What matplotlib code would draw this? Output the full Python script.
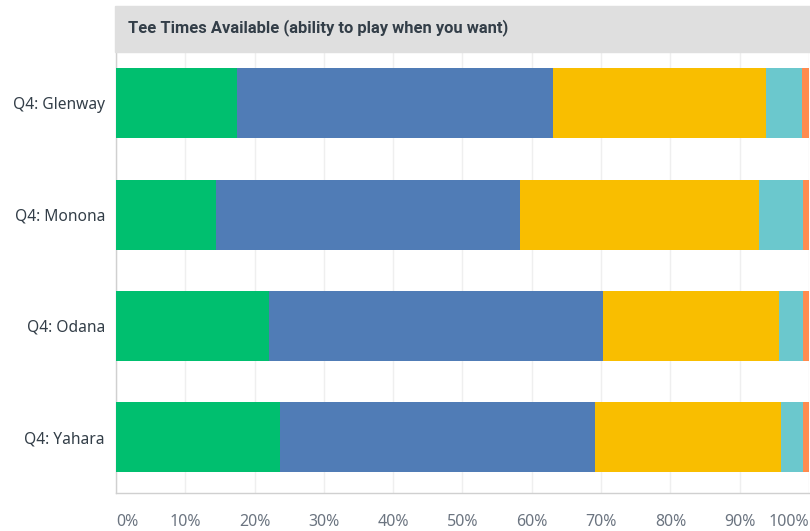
import numpy as np
import matplotlib.pyplot as plt
import matplotlib.ticker as ticker
from matplotlib.patches import Rectangle

# ── DATA ──────────────────────────────────────────────────────────────────────
courses = ["Q4: Glenway", "Q4: Monona", "Q4: Odana", "Q4: Yahara"]
seg_green  = [17.5, 14.4, 22.1, 23.7]
seg_blue   = [45.6, 43.9, 48.2, 45.4]
seg_yellow = [30.7, 34.5, 25.4, 26.9]
seg_teal   = [5.2, 6.4, 3.5, 3.2]
seg_orange = [1.0, 0.8, 0.8, 0.8]
x_ticks = [0, 10, 20, 30, 40, 50, 60, 70, 80, 90, 100]
title = "Tee Times Available (ability to play when you want)"

# ── STYLE ─────────────────────────────────────────────────────────────────────
colors = ["#00bf6f", "#507cb6", "#f9be00", "#6bc8cd", "#ff8b4f"]
c_text = "#333e48"
c_tick = "#6b7480"
plt.rcParams["font.family"] = ["Noto Sans", "DejaVu Sans"]

# ── FIGURE ────────────────────────────────────────────────────────────────────
fig = plt.figure(figsize=(8.1, 5.31), dpi=100)
W, H = 810, 531
ax = fig.add_axes([116 / W, 1 - 493 / H, 693 / W, (493 - 52) / H])

# grey title band
fig.patches.append(Rectangle((115 / W, 1 - 52 / H), (810 - 115) / W, 46 / H,
                             transform=fig.transFigure, color="#dfdfdf", zorder=0))
fig.text(128 / W, 1 - 28 / H, title, fontsize=11.9, fontweight="bold",
         family=["Roboto", "DejaVu Sans"], color=c_text, va="center", ha="left")

y = np.arange(len(courses))
left = np.zeros(len(courses))
for vals, col in zip([seg_green, seg_blue, seg_yellow, seg_teal, seg_orange], colors):
    ax.barh(y, vals, left=left, height=0.63, color=col, zorder=3)
    left += np.array(vals)

ax.set_xlim(0, 100)
ax.set_ylim(3.5, -0.46)
ax.set_yticks(y)
ax.set_yticklabels(courses, fontsize=11.2, color=c_text)
ax.set_xticks(x_ticks)
ax.xaxis.set_major_formatter(ticker.FuncFormatter(lambda v, _: f"{v:.0f}%"))
ax.tick_params(axis="x", length=0, pad=15, labelsize=11.5, labelcolor=c_tick)
ax.tick_params(axis="y", length=0, pad=8)
labels = ax.get_xticklabels()
labels[0].set_horizontalalignment("left")
labels[-1].set_horizontalalignment("right")

ax.grid(axis="x", color="#efefef", lw=1.0, zorder=0)
for s in ["top", "right"]:
    ax.spines[s].set_visible(False)
for s in ["left", "bottom"]:
    ax.spines[s].set_color("#d0d0d0")
    ax.spines[s].set_linewidth(1.0)

plt.savefig("out.png", dpi=100)
